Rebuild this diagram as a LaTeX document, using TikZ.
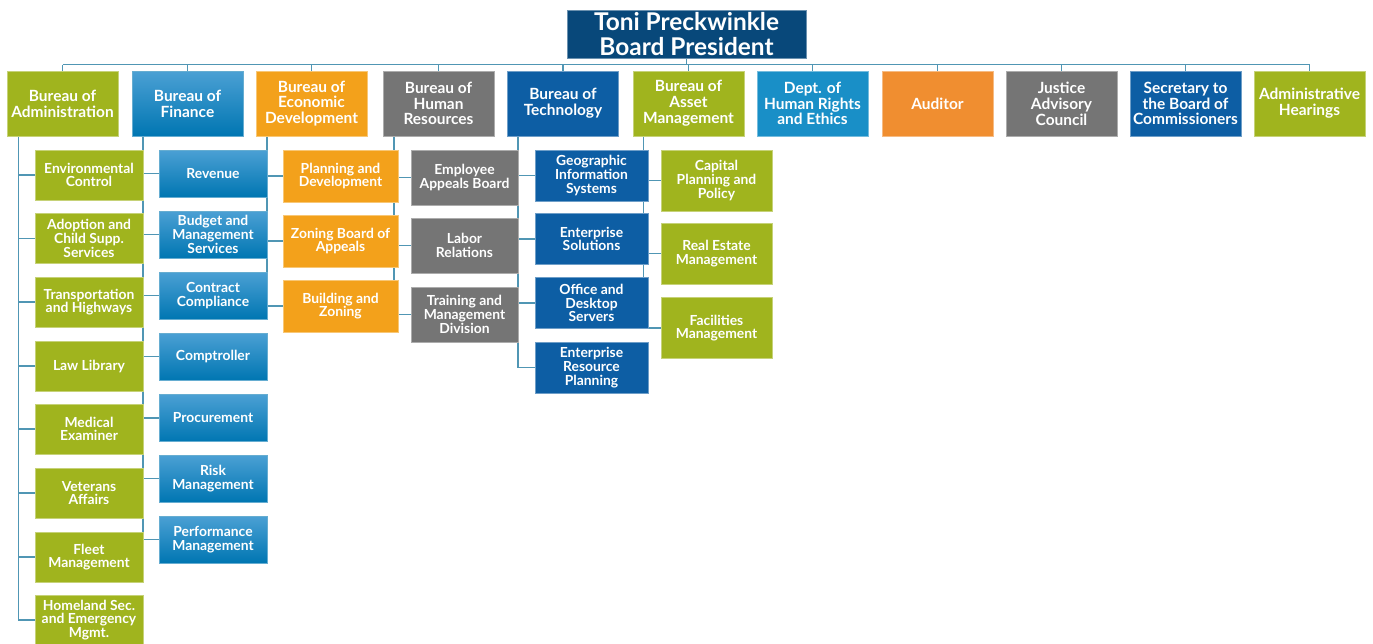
\documentclass[tikz,border=0pt]{standalone}
\usepackage{fontspec}
\setmainfont{Lato}
\usetikzlibrary{backgrounds}
\definecolor{cookNavy}{RGB}{8,72,122}
\definecolor{cookGreen}{RGB}{160,180,30}
\definecolor{cookOrange}{RGB}{243,161,27}
\definecolor{auditOrange}{RGB}{240,142,48}
\definecolor{cookGray}{RGB}{117,117,117}
\definecolor{cookBlue}{RGB}{13,94,164}
\definecolor{rightsBlue}{RGB}{25,143,199}
\definecolor{finTop}{RGB}{75,160,212}
\definecolor{finBot}{RGB}{0,118,178}
\definecolor{linkBlue}{RGB}{80,150,180}
\begin{document}
\begin{tikzpicture}[x=0.02cm, y=-0.02cm,
  box/.style={fill=#1, draw=#1!60!white, line width=0.5pt, text=white,
    align=center, inner sep=0pt},
  finbox/.style={box=finBot, top color=finTop, bottom color=finBot},
  bureau/.style={minimum width=2.22cm, minimum height=1.3cm,
    font=\bfseries\fontsize{8.8}{9}\selectfont},
  dept/.style={font=\bfseries\fontsize{7.9}{7.8}\selectfont},
  link/.style={draw=linkBlue, line width=0.7pt}]
\useasboundingbox (0,0) rectangle (1373,643);

\node[box=cookNavy, minimum width=4.78cm, minimum height=0.96cm,
  font=\bfseries\fontsize{13.9}{13.8}\selectfont] (pres) at (686.5,34) {Toni Preckwinkle\\Board President};

\node[bureau, box=cookGreen] (adm) at (62.5,103.5) {Bureau of\\Administration};
\node[bureau, finbox] (fin) at (187.5,103.5) {Bureau of\\Finance};
\node[bureau, box=cookOrange] (eco) at (311.5,103.5) {Bureau of\\Economic\\Development};
\node[bureau, box=cookGray] (hr) at (438.5,103.5) {Bureau of\\Human\\Resources};
\node[bureau, box=cookBlue] (tech) at (563,103.5) {Bureau of\\Technology};
\node[bureau, box=cookGreen] (asset) at (688.5,103.5) {Bureau of\\Asset\\Management};
\node[bureau, box=rightsBlue] (rights) at (812.5,103.5) {Dept. of\\Human Rights\\and Ethics};
\node[bureau, box=auditOrange] (aud) at (937.5,103.5) {Auditor};
\node[bureau, box=cookGray] (just) at (1061.5,103.5) {Justice\\Advisory\\Council};
\node[bureau, box=cookBlue] (sec) at (1185.5,103.5) {Secretary to\\the Board of\\Commissioners};
\node[bureau, box=cookGreen] (hear) at (1309.5,103.5) {Administrative\\Hearings};

\begin{scope}[every node/.append style={dept, box=cookGreen, minimum width=2.16cm, minimum height=1cm}]
\node (env) at (89,175) {Environmental\\Control};
\node (adopt) at (89,238.5) {Adoption and\\Child Supp.\\Services};
\node (trans) at (89,302) {Transportation\\and Highways};
\node (law) at (89,366) {Law Library};
\node (med) at (89,429) {Medical\\Examiner};
\node (vet) at (89,493) {Veterans\\Affairs};
\node (fleet) at (89,557) {Fleet\\Management};
\node (home) at (89,620) {Homeland Sec.\\and Emergency\\Mgmt.};
\end{scope}

\begin{scope}[every node/.append style={dept, finbox, minimum width=2.16cm, minimum height=0.94cm}]
\node (rev) at (213,173.5) {Revenue};
\node (budget) at (213,234.5) {Budget and\\Management\\Services};
\node (contract) at (213,295.5) {Contract\\Compliance};
\node (comp) at (213,356.5) {Comptroller};
\node (proc) at (213,418) {Procurement};
\node (risk) at (213,478.5) {Risk\\Management};
\node (perf) at (213,539.5) {Performance\\Management};
\end{scope}

\begin{scope}[every node/.append style={dept, box=cookOrange, minimum width=2.3cm, minimum height=1.04cm}]
\node (plan) at (340.5,176) {Planning and\\Development};
\node (zba) at (340.5,241) {Zoning Board of\\Appeals};
\node (build) at (340.5,306) {Building and\\Zoning};
\end{scope}

\begin{scope}[every node/.append style={dept, box=cookGray, minimum width=2.14cm, minimum height=1.1cm}]
\node (appeal) at (464.5,177.5) {Employee\\Appeals Board};
\node (labor) at (464.5,245.5) {Labor\\Relations};
\node (train) at (464.5,314.5) {Training and\\Management\\Division};
\end{scope}

\begin{scope}[every node/.append style={dept, box=cookBlue, minimum width=2.26cm, minimum height=1.02cm}]
\node (gis) at (591.5,175.5) {Geographic\\Information\\Systems};
\node (ent) at (591.5,239) {Enterprise\\Solutions};
\node (office) at (591.5,303) {Office and\\Desktop\\Servers};
\node (erp) at (591.5,367.5) {Enterprise\\Resource\\Planning};
\end{scope}

\begin{scope}[every node/.append style={dept, box=cookGreen, minimum width=2.22cm, minimum height=1.22cm}]
\node (cap) at (716.5,180.5) {Capital\\Planning and\\Policy};
\node (estate) at (716.5,253.5) {Real Estate\\Management};
\node (fac) at (716.5,328) {Facilities\\Management};
\end{scope}

\begin{scope}[on background layer]
\coordinate (bar) at (0,64.5);
\draw[link] (pres.south) -- (pres.south |- bar);
\draw[link] (adm.north |- bar) -- (hear.north |- bar);
\foreach \b in {adm,fin,eco,hr,tech,asset,rights,aud,just,sec,hear}
  \draw[link] (\b.north) -- (\b.north |- bar);
\foreach \d in {env,adopt,trans,law,med,vet,fleet,home}
  \draw[link] ([shift={(12,0)}]adm.south west) |- (\d.west);
\foreach \d in {rev,budget,contract,comp,proc,risk,perf}
  \draw[link] ([shift={(11.5,0)}]fin.south west) |- (\d.west);
\foreach \d in {plan,zba,build}
  \draw[link] ([shift={(11.5,0)}]eco.south west) |- (\d.west);
\foreach \d in {appeal,labor,train}
  \draw[link] ([shift={(11.5,0)}]hr.south west) |- (\d.west);
\foreach \d in {gis,ent,office,erp}
  \draw[link] ([shift={(11,0)}]tech.south west) |- (\d.west);
\foreach \d in {cap,estate,fac}
  \draw[link] ([shift={(11,0)}]asset.south west) |- (\d.west);
\end{scope}
\end{tikzpicture}
\end{document}
